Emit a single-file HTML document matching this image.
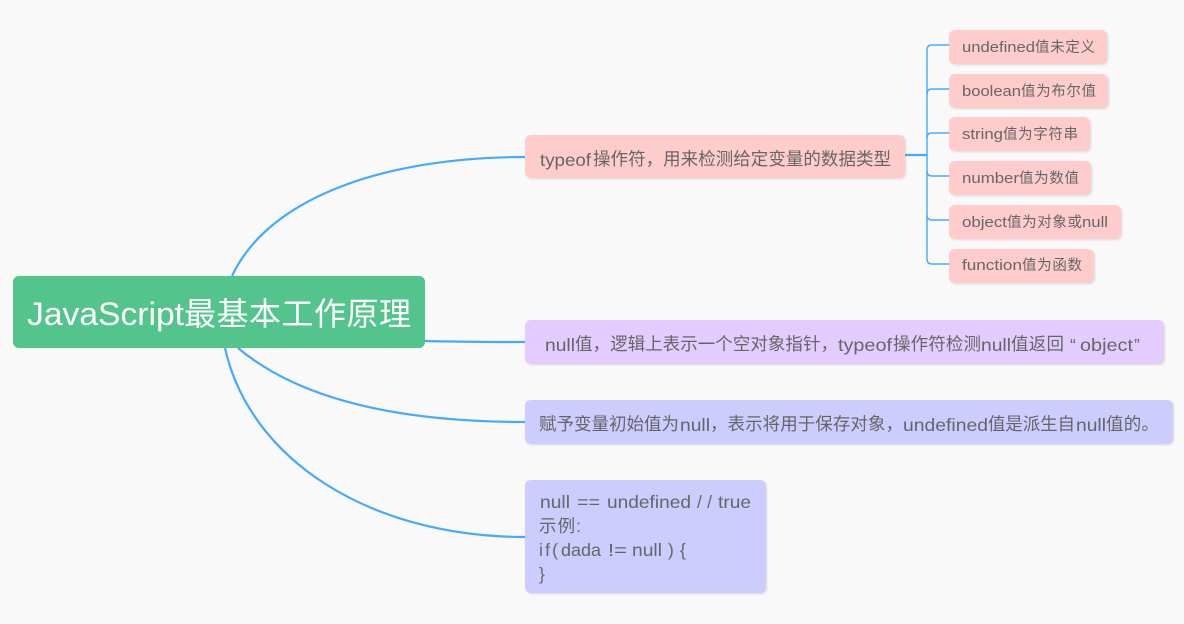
<!DOCTYPE html>
<html>
<head>
<meta charset="utf-8">
<style>
html,body{margin:0;padding:0;background:#f9f9f9;width:1184px;height:624px;overflow:hidden}
svg{display:block}
text{font-family:"Liberation Sans","Noto Sans CJK SC",sans-serif;fill:#666}
.m{font-size:17.5px}
.s{font-size:14.5px}
.b{filter:drop-shadow(1px 1px 1px rgba(0,0,0,.13))}
</style>
</head>
<body>
<svg width="1184" height="624" viewBox="0 0 1184 624" xmlns="http://www.w3.org/2000/svg">
<rect width="1184" height="624" fill="#f9f9f9"/>
<g fill="none" stroke="#45aaff" stroke-width="2.2">
<path d="M232,276C270,195 390,157 525,157"/>
<path d="M425,341C460,342 490,342 525,342"/>
<path d="M238,348C300,400 400,422 525,422"/>
<path d="M225,348C250,460 370,537 525,537"/>
<path d="M905,155H927"/>
</g>
<g fill="none" stroke="#45aaff" stroke-width="1.4">
<path d="M949,45H932Q927,45 927,50V259Q927,264 932,264H949"/>
<path d="M949,89H932Q927,89 927,94"/>
<path d="M949,133H932Q927,133 927,138"/>
<path d="M949,176H932Q927,176 927,171"/>
<path d="M949,220H932Q927,220 927,215"/>
</g>
<rect x="13" y="276" width="412" height="72" rx="6" fill="#52c48c"/>
<g class="b">
<rect x="525" y="135" width="380" height="43" rx="6" fill="#ffcccc"/>
<rect x="525" y="320" width="639" height="44" rx="6" fill="#e3ccff"/>
<rect x="525" y="400" width="648" height="44" rx="6" fill="#ccccff"/>
<rect x="525" y="480" width="241" height="113" rx="6" fill="#ccccff"/>
<rect x="949" y="30" width="158" height="34" rx="6" fill="#ffcccc"/>
<rect x="949" y="74" width="159" height="34" rx="6" fill="#ffcccc"/>
<rect x="949" y="117" width="141" height="34" rx="6" fill="#ffcccc"/>
<rect x="949" y="161" width="142" height="34" rx="6" fill="#ffcccc"/>
<rect x="949" y="205" width="172" height="34" rx="6" fill="#ffcccc"/>
<rect x="949" y="249" width="145" height="34" rx="6" fill="#ffcccc"/>
</g>

<text x="27" y="325" font-size="32" textLength="157" lengthAdjust="spacingAndGlyphs" style="fill:#fff">JavaScript</text>
<text x="184" y="325" font-size="32" textLength="227" style="fill:#fff">最基本工作原理</text>

<text class="m" x="540" y="166" textLength="51" lengthAdjust="spacingAndGlyphs">typeof</text>
<text class="m" x="593" y="165" textLength="298">操作符，用来检测给定变量的数据类型</text>

<text class="m" x="545" y="351" textLength="30" lengthAdjust="spacingAndGlyphs">null</text>
<text class="m" x="575" y="350" textLength="263">值，逻辑上表示一个空对象指针，</text>
<text class="m" x="838" y="351" textLength="54" lengthAdjust="spacingAndGlyphs">typeof</text>
<text class="m" x="893" y="350" textLength="88">操作符检测</text>
<text class="m" x="981" y="351" textLength="30" lengthAdjust="spacingAndGlyphs">null</text>
<text class="m" x="1011" y="350" textLength="53">值返回</text>
<text class="m" x="1070" y="351">“</text>
<text class="m" x="1080" y="351" textLength="53" lengthAdjust="spacingAndGlyphs">object</text>
<text class="m" x="1134" y="351">”</text>

<text class="m" x="539" y="430" textLength="140">赋予变量初始值为</text>
<text class="m" x="680" y="431" textLength="30" lengthAdjust="spacingAndGlyphs">null</text>
<text class="m" x="710" y="430" textLength="193">，表示将用于保存对象，</text>
<text class="m" x="903" y="431" textLength="85" lengthAdjust="spacingAndGlyphs">undefined</text>
<text class="m" x="988" y="430" textLength="87">值是派生自</text>
<text class="m" x="1076" y="431" textLength="30" lengthAdjust="spacingAndGlyphs">null</text>
<text class="m" x="1106" y="430" textLength="53">值的。</text>

<text class="m" x="540" y="508" textLength="30" lengthAdjust="spacingAndGlyphs">null</text>
<text class="m" x="577" y="508" textLength="23" lengthAdjust="spacingAndGlyphs">==</text>
<text class="m" x="607" y="508" textLength="84" lengthAdjust="spacingAndGlyphs">undefined</text>
<text class="m" x="697" y="508" textLength="15">//</text>
<text class="m" x="718" y="508" textLength="33" lengthAdjust="spacingAndGlyphs">true</text>
<text class="m" x="539" y="532" textLength="42">示例:</text>
<text class="m" x="539" y="556" textLength="19">if(</text>
<text class="m" x="561" y="556" textLength="40" lengthAdjust="spacingAndGlyphs">dada</text>
<text class="m" x="608" y="556" textLength="19" lengthAdjust="spacingAndGlyphs">!=</text>
<text class="m" x="632" y="556" textLength="30" lengthAdjust="spacingAndGlyphs">null</text>
<text class="m" x="668" y="556">)</text>
<text class="m" x="680" y="556">{</text>
<text class="m" x="539" y="580">}</text>

<text class="s" x="962" y="52" textLength="73" lengthAdjust="spacingAndGlyphs">undefined</text>
<text class="s" x="1035" y="52" textLength="60">值未定义</text>
<text class="s" x="962" y="96" textLength="59" lengthAdjust="spacingAndGlyphs">boolean</text>
<text class="s" x="1021" y="96" textLength="75">值为布尔值</text>
<text class="s" x="962" y="139" textLength="41" lengthAdjust="spacingAndGlyphs">string</text>
<text class="s" x="1003" y="139" textLength="75">值为字符串</text>
<text class="s" x="962" y="183" textLength="57" lengthAdjust="spacingAndGlyphs">number</text>
<text class="s" x="1019" y="183" textLength="60">值为数值</text>
<text class="s" x="962" y="227" textLength="45" lengthAdjust="spacingAndGlyphs">object</text>
<text class="s" x="1007" y="227" textLength="75">值为对象或</text>
<text class="s" x="1082" y="227" textLength="26" lengthAdjust="spacingAndGlyphs">null</text>
<text class="s" x="962" y="270" textLength="60" lengthAdjust="spacingAndGlyphs">function</text>
<text class="s" x="1022" y="270" textLength="60">值为函数</text>
</svg>
</body>
</html>
